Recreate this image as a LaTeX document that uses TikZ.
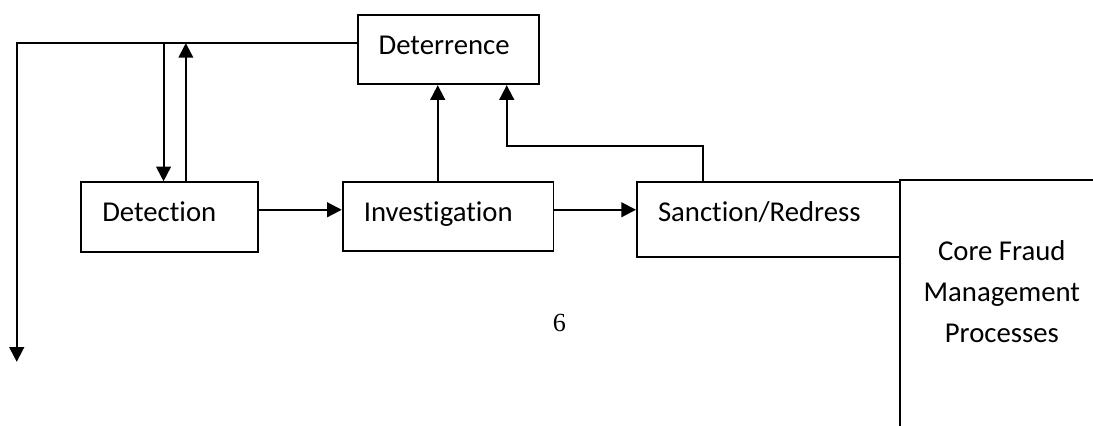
\documentclass[tikz,border=0pt]{standalone}
\usepackage{fontspec}
\setmainfont{Carlito}[Ligatures=NoCommon]
\newfontfamily\pagefont{Liberation Serif}
\usetikzlibrary{arrows.meta}

\tikzset{
    stage/.style={draw, anchor=north west, align=left, inner xsep=0.283cm, inner ysep=0pt, text height=0.525cm},
    link/.style={-{Triangle[length=5.6pt,width=5.6pt]}}
}

\begin{document}
\begin{tikzpicture}[line width=0.75pt, font=\fontsize{11}{15.7}\selectfont]
        \useasboundingbox (0,0) rectangle (14.71,-5.72);
        \node (D) at (4.80,-0.19) [stage, text width=1.88cm, text depth=0.405cm] {Deterrence};
        \node (A) at (1.08,-2.44) [stage, text width=1.81cm, text depth=0.415cm] {Detection};
        \node (B) at (4.60,-2.44) [stage, text width=2.27cm, text depth=0.405cm] {Investigation};
        \node (C) at (8.56,-2.44) [stage, text width=2.97cm, text depth=0.475cm] {Sanction/Redress};
        \node (E) at (12.10,-2.41) [draw, anchor=north west, align=center, minimum width=2.74cm, inner xsep=0pt, inner ysep=0pt, text height=2.18cm, text depth=1.26cm] {Core Fraud\\Management\\Processes};
        \node (F) at (7.53,-4.35) [font=\pagefont\fontsize{10}{12}\selectfont] {6};
        \coordinate (T) at (0.225,-0.58);
        \coordinate (L) at (0.225,-4.87);
        \coordinate (M) at (6.82,-1.965);
        \draw[link] (T -| D.west) -- (T) -- (L);
        \draw[link] ([xshift=-0.08cm]A.north |- T) -- ([xshift=-0.08cm]A.north);
        \draw[link] ([xshift=0.22cm]A.north) -- ([xshift=0.22cm]A.north |- T);
        \draw[link] ([yshift=0.1cm]A.east) -- ([yshift=0.1cm]A.east -| B.west);
        \draw[link] ([yshift=0.1cm]A.east -| B.east) -- ([yshift=0.1cm]A.east -| C.west);
        \draw[link] ([xshift=-0.14cm]B.north) -- ([xshift=-0.14cm]B.north |- D.south);
        \draw[link] ([xshift=-0.88cm]C.north) |- (M) -- (M |- D.south);
\end{tikzpicture}
\end{document}
